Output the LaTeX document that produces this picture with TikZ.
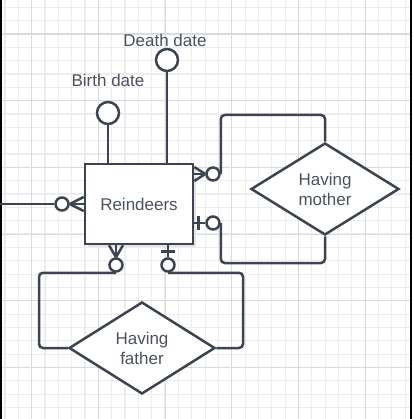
\documentclass[tikz,border=0pt]{standalone}
\usepackage{fontspec}
\setmainfont{Liberation Sans}
\usetikzlibrary{shapes.geometric}

\definecolor{erline}{HTML}{3B4450}
\definecolor{ertext}{HTML}{4A525E}
\definecolor{gridminor}{HTML}{ECECEC}
\definecolor{gridmajor}{HTML}{DADADA}

\tikzset{
  entity/.style = {draw = erline, line width = 2.5, fill = white, minimum width = 108, minimum height = 80, inner sep = 0, font = \fontsize{17}{20}\selectfont, text = ertext},
  relation/.style = {diamond, draw = erline, line width = 2.5, fill = white, inner sep = 0, align = center, font = \fontsize{17}{20}\selectfont, text = ertext},
  endcircle/.style = {circle, draw = erline, line width = 2.5, fill = white, minimum size = 13, inner sep = 0},
  attrcircle/.style = {circle, draw = erline, line width = 2.5, fill = white, minimum size = 22, inner sep = 0},
  attrlabel/.style = {font = \fontsize{17}{20}\selectfont, text = ertext},
  link/.style = {draw = erline, line width = 2.5, rounded corners = 4},
}

\begin{document}
\begin{tikzpicture}[x = 1pt, y = -1pt]
    \useasboundingbox (0,0) rectangle (412,419);
    % grid
    \foreach \i in {0,...,30} {
        \pgfmathsetmacro{\gx}{5 + 13.34*\i}
        \pgfmathsetmacro{\gy}{7.3 + 13.34*\i}
        \draw[gridminor, line width = 1.2] (\gx,0) -- (\gx,419);
        \draw[gridminor, line width = 1.2] (0,\gy) -- (412,\gy);
    }
    \foreach \i in {0,...,6} {
        \pgfmathsetmacro{\gx}{31.7 + 66.7*\i}
        \pgfmathsetmacro{\gy}{34 + 66.7*\i}
        \draw[gridmajor, line width = 1.2] (\gx,0) -- (\gx,419);
        \draw[gridmajor, line width = 1.2] (0,\gy) -- (412,\gy);
    }
    \fill (0,0) rectangle (2,419);
    \fill (410,0) rectangle (412,419);

    \fill[black!10] (88,167) rectangle (196,247);
    \node[entity] (reindeers) at (139,204) {Reindeers};
    \node[relation, minimum width = 148, minimum height = 92] (mother) at (325,189) {Having\\mother};
    \node[relation, minimum width = 146, minimum height = 92] (father) at (142,348) {Having\\father};

    \node[attrcircle] (birth) at (108,113) {};
    \node[attrcircle] (death) at (167,60) {};
    \node[attrlabel] (birthlabel) at (108,80) {Birth date};
    \node[attrlabel] (deathlabel) at (165,40) {Death date};
    \draw[link] (birth.south) -- (birth.south |- reindeers.north);
    \draw[link] (death.south) -- (death.south |- reindeers.north);

    % left, zero or many
    \coordinate (leftend) at (0,204);
    \node[endcircle] (lc) at (62,204) {};
    \draw[link] (leftend) -- (lc.west);
    \draw[link] (lc.east) -- (reindeers.west);
    \draw[link] (lc.east) -- ([yshift = 7]reindeers.west);
    \draw[link] (lc.east) -- ([yshift = -7]reindeers.west);

    % mother
    \node[endcircle] (mc) at (213,174) {};
    \draw[link] (mc.west) -- (mc.west -| reindeers.east);
    \draw[link] (mc.west) -- ([yshift = 7]mc.west -| reindeers.east);
    \draw[link] (mc.west) -- ([yshift = -7]mc.west -| reindeers.east);
    \draw[link] (mc.east) -- ++(0,-59) -| (mother.north);
    \node[endcircle] (oc) at (213,223) {};
    \draw[link] (oc.west) -- (oc.west -| reindeers.east);
    \draw[erline, line width = 2.5] ([xshift = -7, yshift = 7]oc.west) -- ([xshift = -7, yshift = -7]oc.west);
    \draw[link] (oc.east) -- ++(0,40) -| (mother.south);

    % father
    \node[endcircle] (fc) at (116,265) {};
    \draw[link] (fc.north) -- (fc.north |- reindeers.south);
    \draw[link] (fc.north) -- ([xshift = -7]fc.north |- reindeers.south);
    \draw[link] (fc.north) -- ([xshift = 7]fc.north |- reindeers.south);
    \draw[link] (fc.south) -- ++(-77,0) |- (father.west);
    \node[endcircle] (ob) at (168,265) {};
    \draw[link] (ob.north) -- (ob.north |- reindeers.south);
    \draw[erline, line width = 2.5] ([xshift = -7, yshift = 6]ob.north) -- ([xshift = 7, yshift = 6]ob.north);
    \draw[link] (ob.south) -- ++(75,0) |- (father.east);
\end{tikzpicture}
\end{document}
